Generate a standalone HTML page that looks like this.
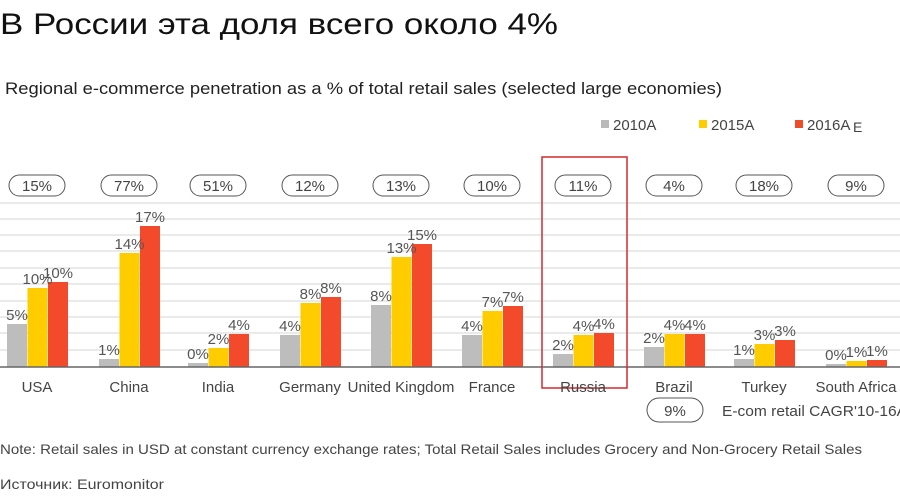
<!DOCTYPE html>
<html><head><meta charset="utf-8"><style>
html,body{margin:0;padding:0;background:#fff;}
svg{display:block;font-family:"Liberation Sans","DejaVu Sans",sans-serif;}
</style></head><body>
<svg width="900" height="500" viewBox="0 0 900 500" xmlns="http://www.w3.org/2000/svg">
<text x="0" y="34" font-size="30" fill="#111" textLength="558" lengthAdjust="spacingAndGlyphs">В России эта доля всего около 4%</text>
<text x="5" y="94" font-size="17" fill="#222" textLength="717" lengthAdjust="spacingAndGlyphs">Regional e-commerce penetration as a % of total retail sales (selected large economies)</text>
<g font-size="15" fill="#444">
<rect x="601" y="120" width="8" height="8" fill="#b9b9b9"/><text x="613" y="130">2010A</text>
<rect x="699" y="120" width="8" height="8" fill="#ffcc00"/><text x="711" y="130">2015A</text>
<rect x="795" y="120" width="8" height="8" fill="#f14a2b"/><text x="807" y="130">2016A</text><text x="853" y="132" font-size="14">E</text>
</g>
<g stroke="#e3e3e3" stroke-width="1.5">
<line x1="0" x2="900" y1="203" y2="203"/><line x1="0" x2="900" y1="219" y2="219"/><line x1="0" x2="900" y1="235" y2="235"/><line x1="0" x2="900" y1="251" y2="251"/><line x1="0" x2="900" y1="268" y2="268"/><line x1="0" x2="900" y1="284" y2="284"/><line x1="0" x2="900" y1="301" y2="301"/><line x1="0" x2="900" y1="317" y2="317"/><line x1="0" x2="900" y1="333" y2="333"/><line x1="0" x2="900" y1="350" y2="350"/>
</g>
<g id="bars"></g>
<line x1="0" x2="900" y1="367" y2="367" stroke="#666" stroke-width="1.5"/>
<rect x="542" y="157" width="85" height="231" fill="none" stroke="#d42a2a" stroke-width="1.5"/>
<g id="txt" fill="#555" text-anchor="middle"></g>
<rect x="647" y="398" width="56" height="24" rx="12" fill="none" stroke="#555" stroke-width="1"/>
<text x="675" y="416" font-size="15" fill="#444" text-anchor="middle">9%</text>
<text x="722" y="416" font-size="15" fill="#444" textLength="185" lengthAdjust="spacingAndGlyphs">E-com retail CAGR'10-16A</text>
<text x="0" y="454" font-size="14" fill="#444" textLength="862" lengthAdjust="spacingAndGlyphs">Note: Retail sales in USD at constant currency exchange rates; Total Retail Sales includes Grocery and Non-Grocery Retail Sales</text>
<text x="0" y="489" font-size="14" fill="#444" textLength="164" lengthAdjust="spacingAndGlyphs">Источник: Euromonitor</text>
</svg>
<script>
var d=[["USA",7,"15%",[324,"5%"],[288,"10%"],[282,"10%"]],
["China",99,"77%",[359,"1%"],[253,"14%"],[226,"17%"]],
["India",188,"51%",[363,"0%"],[348,"2%"],[334,"4%"]],
["Germany",280,"12%",[335,"4%"],[303,"8%"],[297,"8%"]],
["United Kingdom",371,"13%",[305,"8%"],[257,"13%"],[244,"15%"]],
["France",462,"10%",[335,"4%"],[311,"7%"],[306,"7%"]],
["Russia",553,"11%",[354,"2%"],[335,"4%"],[333,"4%"]],
["Brazil",644,"4%",[347,"2%"],[334,"4%"],[334,"4%"]],
["Turkey",734,"18%",[359,"1%"],[344,"3%"],[340,"3%"]],
["South Africa",826,"9%",[364,"0%"],[361,"1%"],[360,"1%"]]];
var cols=["#bdbdbd","#ffcc00","#f24a2b"],ns="http://www.w3.org/2000/svg";
var B=document.getElementById("bars"),T=document.getElementById("txt");
function el(p,t,a,tx){var e=document.createElementNS(ns,t);for(var k in a)e.setAttribute(k,a[k]);if(tx)e.textContent=tx;p.appendChild(e);return e;}
d.forEach(function(g){var x0=g[1],c=x0+30;
for(var i=0;i<3;i++){var b=g[3+i],x=x0+i*20.5;el(B,"rect",{x:x,y:b[0],width:20,height:367-b[0],fill:cols[i]});
el(T,"text",{x:x+10,y:b[0]-4,"font-size":"15"},b[1]);}
el(T,"text",{x:c,y:392,"font-size":"15",fill:"#444"},g[0]);
el(T,"rect",{x:c-28,y:175,width:56,height:21,rx:10.5,fill:"none",stroke:"#555","stroke-width":"1"});
el(T,"text",{x:c,y:191,"font-size":"15",fill:"#444"},g[2]);});
</script>
</body></html>
